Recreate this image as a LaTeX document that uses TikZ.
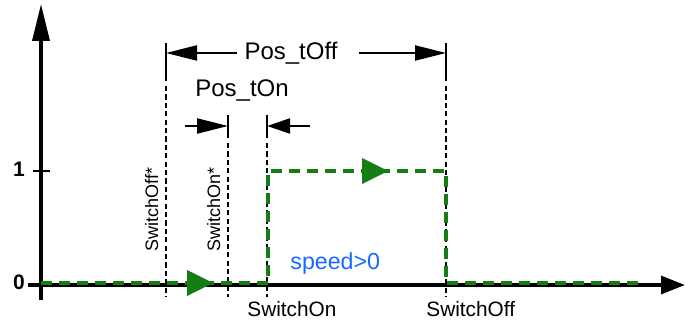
\documentclass[tikz,border=0pt]{standalone}
\usepackage{fontspec}
\setmainfont{Liberation Sans}
\usetikzlibrary{arrows.meta}
\definecolor{sig}{RGB}{20,125,20}
\definecolor{spd}{RGB}{25,105,255}
\begin{document}
\begin{tikzpicture}[x=0.5pt,y=-0.5pt,
  axis/.style={line width=1.7pt},
  tickln/.style={line width=1.1pt},
  dim/.style={line width=1.1pt},
  guide/.style={line width=0.9pt, dash pattern=on 2.6pt off 1.6pt},
  sigline/.style={draw=sig, line width=1.9pt, dash pattern=on 5.5pt off 3.5pt},
  sighead/.style={fill=sig, draw=none},
  dimtxt/.style={font=\fontsize{12}{14}\selectfont, inner sep=0pt, anchor=base},
  pttxt/.style={font=\fontsize{10.4}{12}\selectfont, inner sep=0pt, anchor=base west},
  rottxt/.style={font=\fontsize{9}{11}\selectfont, inner sep=0pt, rotate=90, anchor=base west},
  numtxt/.style={font=\fontsize{10.5}{12}\selectfont\bfseries, inner sep=0pt, anchor=base},
  bigtip/.style={-{Triangle[length=15.5pt,width=7.5pt]}},
]
\useasboundingbox (0,0) rectangle (685,320);

% axes
\coordinate (yb) at (41,300);
\coordinate (yt) at (41,4);
\coordinate (xl) at (28,285);
\coordinate (xr) at (685,285);
\draw[axis,-{Triangle[length=18.5pt,width=8.5pt]}] (yb) -- (yt);
\draw[axis,-{Triangle[length=12pt,width=9pt]}] (xl) -- (xr);
\coordinate (t1a) at (33,171);
\coordinate (t1b) at (50,171);
\draw[tickln] (t1a) -- (t1b);
\node[numtxt] (one) at (19,177) {1};
\node[numtxt] (zero) at (19,289) {0};

% guide lines
\coordinate (g1a) at (166,43);  \coordinate (g1b) at (166,81);  \coordinate (g1c) at (166,86);  \coordinate (g1d) at (166,297);
\coordinate (g2a) at (228,115); \coordinate (g2b) at (228,138); \coordinate (g2c) at (228,143); \coordinate (g2d) at (228,297);
\coordinate (g3a) at (267,115); \coordinate (g3b) at (267,138); \coordinate (g3c) at (267,143); \coordinate (g3d) at (267,297);
\coordinate (g4a) at (446,43);  \coordinate (g4b) at (446,81);  \coordinate (g4c) at (446,86);  \coordinate (g4d) at (446,297);
\draw[dim] (g1a) -- (g1b); \draw[guide] (g1c) -- (g1d);
\draw[dim] (g2a) -- (g2b); \draw[guide] (g2c) -- (g2d);
\draw[dim] (g3a) -- (g3b); \draw[guide] (g3c) -- (g3d);
\draw[dim] (g4a) -- (g4b); \draw[guide] (g4c) -- (g4d);

% Pos_tOff dimension
\node[dimtxt] (toff) at (291,60) {Pos\_tOff};
\coordinate (d1l) at (237,53); \coordinate (d1le) at (166,53);
\coordinate (d1r) at (359,53); \coordinate (d1re) at (446,53);
\draw[dim,bigtip] (d1l) -- (d1le);
\draw[dim,bigtip] (d1r) -- (d1re);

% Pos_tOn dimension
\node[dimtxt] (ton) at (242,97) {Pos\_tOn};
\coordinate (d2l) at (185,126); \coordinate (d2le) at (228,126);
\coordinate (d2r) at (310,126); \coordinate (d2re) at (267,126);
\draw[dim,bigtip] (d2l) -- (d2le);
\draw[dim,-{Triangle[length=11.5pt,width=7.5pt]}] (d2r) -- (d2re);

% labels
\node[pttxt] (son) at (247,316) {SwitchOn};
\node[pttxt] (soff) at (426,316) {SwitchOff};
\node[rottxt] (soffs) at (158,252) {SwitchOff*};
\node[rottxt] (sons) at (220,252) {SwitchOn*};
\node[font=\fontsize{11.6}{14}\selectfont, inner sep=0pt, anchor=base west, text=spd] (spd) at (290,270) {speed>0};

% signal
\coordinate (s0) at (41,283);
\coordinate (s1) at (268,283);
\coordinate (s2) at (268,171);
\coordinate (s3) at (446,171);
\coordinate (s4) at (446,283);
\coordinate (s5) at (642,283);
\draw[sigline] (s0) -- (s1) -- (s2) -- (s3) -- (s4) -- (s5);
\fill[sighead] (187,270) -- (213,283) -- (187,296) -- cycle;
\fill[sighead] (362,158) -- (388,171) -- (362,184) -- cycle;
\end{tikzpicture}
\end{document}
